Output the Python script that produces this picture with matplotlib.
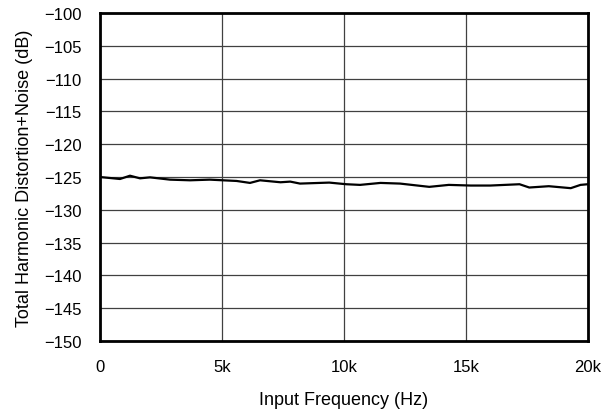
import matplotlib
matplotlib.use("Agg")
import matplotlib.pyplot as plt

plt.rcParams['font.family'] = ['Liberation Sans', 'DejaVu Sans']

# frequency (Hz) and THD+N (dB)
freq = [0, 820, 1230, 1640, 2050, 2870, 3690, 4500, 5040, 5600, 6150, 6560, 7400, 7800,
        8200, 9400, 10100, 10660, 11500, 12300, 13500, 14300, 15200, 16000, 17200, 17600,
        18400, 19300, 19700, 20000]
thdn = [-125.0, -125.3, -124.8, -125.2, -125.05, -125.4, -125.5, -125.4, -125.5, -125.6,
        -125.9, -125.5, -125.8, -125.7, -126.0, -125.85, -126.1, -126.2, -125.9, -126.0,
        -126.5, -126.2, -126.3, -126.3, -126.1, -126.6, -126.4, -126.7, -126.2, -126.1]

xticks = [0, 5000, 10000, 15000, 20000]
xlabels = ['0', '5k', '10k', '15k', '20k']
yticks = list(range(-150, -99, 5))

fig = plt.figure(figsize=(6.06, 4.14), dpi=100)
ax = fig.add_axes([0.165, 0.174, 0.805, 0.792])

ax.plot(freq, thdn, color='black', linewidth=1.6)

ax.set_xlim(0, 20000)
ax.set_ylim(-150, -100)
ax.set_xticks(xticks)
ax.set_xticklabels(xlabels)
ax.set_yticks(yticks)
ax.set_yticklabels(['\u2212%d' % abs(v) for v in yticks])
ax.tick_params(axis='y', length=0, labelsize=12, pad=13)
ax.tick_params(axis='x', length=0, labelsize=12, pad=13)
ax.grid(True, color='#404040', linewidth=0.9)
for s in ax.spines.values():
    s.set_linewidth(2)

ax.set_xlabel('Input Frequency (Hz)', fontsize=13, labelpad=12)
ax.set_ylabel('Total Harmonic Distortion+Noise (dB)', fontsize=13, labelpad=8)

fig.savefig('out.png', dpi=100)
